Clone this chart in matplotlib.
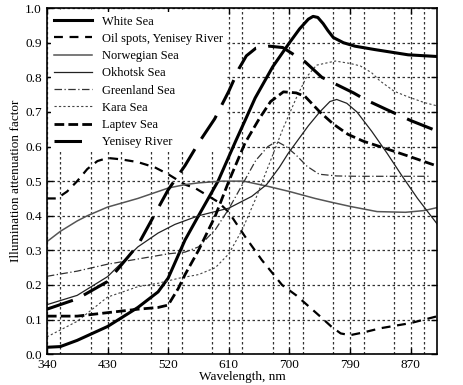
import matplotlib
matplotlib.use("Agg")
import matplotlib.pyplot as plt
from matplotlib.ticker import MultipleLocator

plt.rcParams['font.family'] = ['Liberation Serif', 'DejaVu Serif']

# Wavelength (nm) / attenuation factor
white_x = [340, 360, 385, 430, 475, 505, 520, 545, 565, 594, 620, 634, 649, 675, 700, 715, 728, 735, 742, 750, 757, 765, 780, 797, 827, 876, 920]
white_y = [0.02, 0.022, 0.04, 0.08, 0.135, 0.18, 0.22, 0.33, 0.40, 0.50, 0.615, 0.675, 0.74, 0.83, 0.90, 0.94, 0.968, 0.976, 0.973, 0.955, 0.935, 0.915, 0.90, 0.89, 0.88, 0.865, 0.86]

oil_x = [340, 355, 370, 385, 400, 415, 430, 450, 475, 500, 520, 545, 560, 577, 594, 610, 634, 659, 689, 710, 745, 762, 776, 790, 810, 835, 880, 920]
oil_y = [0.45, 0.45, 0.47, 0.50, 0.535, 0.558, 0.567, 0.563, 0.555, 0.54, 0.52, 0.49, 0.48, 0.46, 0.44, 0.41, 0.34, 0.272, 0.20, 0.17, 0.11, 0.08, 0.06, 0.055, 0.063, 0.075, 0.09, 0.11]

norw_x = [340, 360, 385, 400, 430, 475, 520, 545, 565, 600, 632, 668, 700, 738, 760, 790, 830, 872, 900, 920]
norw_y = [0.325, 0.355, 0.385, 0.40, 0.425, 0.45, 0.48, 0.49, 0.495, 0.50, 0.50, 0.485, 0.47, 0.45, 0.44, 0.427, 0.412, 0.41, 0.415, 0.424]

okh_x = [340, 385, 430, 475, 505, 530, 565, 610, 644, 666, 685, 698, 728, 745, 760, 770, 785, 800, 822, 845, 867, 890, 920]
okh_y = [0.143, 0.17, 0.224, 0.31, 0.35, 0.375, 0.40, 0.422, 0.456, 0.49, 0.54, 0.58, 0.66, 0.70, 0.73, 0.736, 0.725, 0.70, 0.644, 0.58, 0.515, 0.45, 0.374]

green_x = [340, 385, 430, 475, 520, 545, 565, 590, 610, 630, 650, 668, 681, 695, 710, 726, 744, 770, 800, 910]
green_y = [0.225, 0.24, 0.26, 0.275, 0.29, 0.295, 0.31, 0.36, 0.42, 0.49, 0.56, 0.60, 0.615, 0.60, 0.575, 0.543, 0.52, 0.515, 0.514, 0.514]

kara_x = [340, 385, 430, 475, 505, 537, 565, 590, 610, 630, 650, 670, 690, 710, 725, 740, 768, 790, 805, 822, 834, 855, 874, 900, 920]
kara_y = [0.05, 0.095, 0.165, 0.195, 0.205, 0.22, 0.23, 0.25, 0.29, 0.36, 0.45, 0.55, 0.65, 0.74, 0.80, 0.835, 0.847, 0.84, 0.833, 0.813, 0.79, 0.76, 0.745, 0.727, 0.717]

lapt_x = [340, 385, 430, 475, 505, 520, 535, 545, 565, 590, 610, 634, 655, 672, 691, 710, 723, 745, 765, 787, 810, 834, 880, 920]
lapt_y = [0.11, 0.11, 0.12, 0.13, 0.135, 0.142, 0.19, 0.23, 0.30, 0.40, 0.50, 0.61, 0.68, 0.73, 0.758, 0.755, 0.745, 0.70, 0.665, 0.635, 0.615, 0.60, 0.57, 0.543]

yen_x = [340, 385, 430, 475, 520, 545, 565, 589, 610, 625, 636, 650, 670, 690, 723, 748, 795, 812, 844, 880, 920]
yen_y = [0.13, 0.16, 0.21, 0.315, 0.475, 0.545, 0.61, 0.68, 0.76, 0.825, 0.862, 0.884, 0.89, 0.886, 0.845, 0.80, 0.755, 0.736, 0.707, 0.675, 0.644]

x_ticks = [340, 430, 520, 610, 700, 790, 880]
x_labels = ["340", "430", "520", "610", "700", "790", "870"]

fig = plt.figure(figsize=(4.64, 3.85), dpi=100)
ax = fig.add_axes([0.101, 0.080, 0.841, 0.899])

ax.plot(white_x, white_y, color='black', lw=2.2, label='White Sea')
ax.plot(oil_x, oil_y, color='black', lw=1.6, dashes=(4, 3), label='Oil spots, Yenisey River')
ax.plot(norw_x, norw_y, color='#555555', lw=1.1, label='Norwegian Sea')
ax.plot(okh_x, okh_y, color='#222222', lw=0.9, label='Okhotsk Sea')
ax.plot(green_x, green_y, color='#333333', lw=0.9, dashes=(6, 2, 1, 2), label='Greenland Sea')
ax.plot(kara_x, kara_y, color='#444444', lw=0.8, dashes=(2, 2), label='Kara Sea')
ax.plot(lapt_x, lapt_y, color='black', lw=2.0, dashes=(3.5, 1.5), label='Laptev Sea')
ax.plot(yen_x, yen_y, color='black', lw=2.2, dashes=(9, 4), label='Yenisey River')

ax.set_xlim(340, 919)
ax.set_ylim(0, 1.0)
ax.set_xticks(x_ticks)
ax.set_xticklabels(x_labels)
ax.xaxis.set_minor_locator(MultipleLocator(45))
ax.yaxis.set_major_locator(MultipleLocator(0.1))
ax.yaxis.set_major_formatter(plt.FormatStrFormatter('%.1f'))
ax.grid(True, which='both', color='#333333', lw=0.9, dashes=(2, 2), zorder=1)
ax.tick_params(direction='in', top=True, right=True, labelsize=9.5, length=4, width=1)
ax.tick_params(which='minor', length=0)
for s in ax.spines.values():
    s.set_linewidth(1.2)

ax.set_xlabel('Wavelength, nm', fontsize=9.5, labelpad=0)
ax.set_ylabel('Illumination attenuation factor', fontsize=9.5, labelpad=2)

# legend box sits over the grid but under the curves
leg = ax.legend(loc='upper left', frameon=True, fontsize=9, handlelength=3.0,
                handletextpad=0.8, labelspacing=0.42, borderaxespad=0.3,
                borderpad=0.3, facecolor='white', edgecolor='none', framealpha=1)
leg.set_zorder(1.8)

fig.savefig('out.png', dpi=100)
